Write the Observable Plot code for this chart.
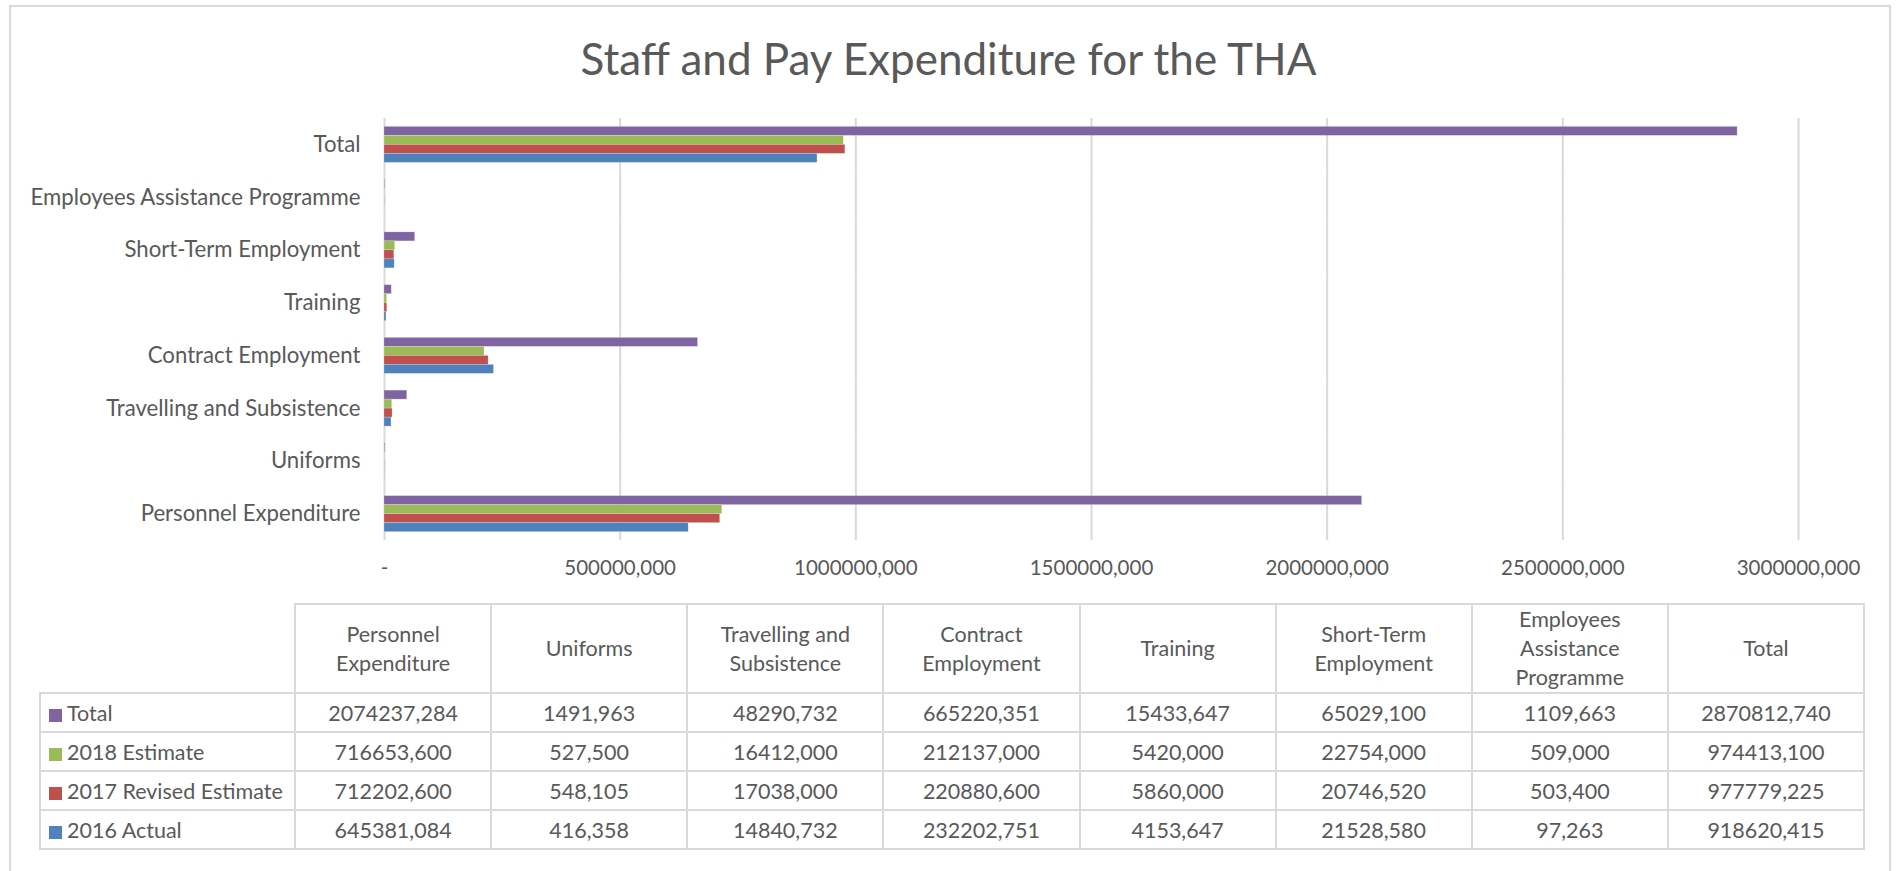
<!DOCTYPE html>
<html>
<head>
<meta charset="utf-8">
<script src="https://cdn.jsdelivr.net/npm/d3@7"></script>
<script src="https://cdn.jsdelivr.net/npm/@observablehq/plot@0.6"></script>
<style>
  html, body { margin: 0; padding: 0; background: #fff; }
  #root { position: relative; width: 1897px; height: 871px; overflow: hidden; font-family: Lato, "Open Sans", sans-serif; color: #595959; }
  #frame { position: absolute; left: 9px; top: 5px; width: 1882px; height: 900px; border: 2px solid #d9d9d9; box-sizing: border-box; }
  #title { position: absolute; left: 0; width: 1897px; top: 28px; text-align: center; font-size: 44px; font-weight: 400; color: #595959; line-height: 60px; }
  #chart { position: absolute; left: 0; top: 0; }
  table { position: absolute; left: 39px; top: 603px; border-collapse: collapse; table-layout: fixed; width: 1826px; font-size: 21.5px; color: #595959; }
  th, td { border: 2px solid #d9d9d9; text-align: center; font-weight: normal; padding: 0; }
  th { height: 86px; line-height: 29px; white-space: pre-line; }
  td { height: 37px; }
  td.key { text-align: left; padding-left: 8px; white-space: nowrap; }
  .sw { display: inline-block; width: 13px; height: 13px; margin-right: 5px; vertical-align: -1px; }
  th.empty { border-top: none; border-left: none; }
</style>
</head>
<body>
<div id="root">
  <div id="frame"></div>
  <div id="title"></div>
  <div id="chart"></div>
</div>
<script>
const titleText = "Staff and Pay Expenditure for the THA";
// Categories in table / data order (bottom to top on chart)
const categories = ["Personnel Expenditure", "Uniforms", "Travelling and Subsistence", "Contract Employment", "Training", "Short-Term Employment", "Employees Assistance Programme", "Total"];
const headerLabels = ["Personnel\nExpenditure", "Uniforms", "Travelling and\nSubsistence", "Contract\nEmployment", "Training", "Short-Term\nEmployment", "Employees\nAssistance\nProgramme", "Total"];
const seriesNames = ["Total", "2018 Estimate", "2017 Revised Estimate", "2016 Actual"];
const seriesColors = ["#8064A2", "#9BBB59", "#C0504D", "#4F81BD"];
const totalValues    = [2074237284, 1491963, 48290732, 665220351, 15433647, 65029100, 1109663, 2870812740];
const est2018Values  = [716653600, 527500, 16412000, 212137000, 5420000, 22754000, 509000, 974413100];
const rev2017Values  = [712202600, 548105, 17038000, 220880600, 5860000, 20746520, 503400, 977779225];
const actual2016Values = [645381084, 416358, 14840732, 232202751, 4153647, 21528580, 97263, 918620415];
const xTicks = [0, 500000000, 1000000000, 1500000000, 2000000000, 2500000000, 3000000000];

const seriesValues = [totalValues, est2018Values, rev2017Values, actual2016Values];

function fmt(v) {
  if (v === 0) return "-";
  if (v < 1000) return String(v);
  return Math.floor(v / 1000) + "," + String(v % 1000).padStart(3, "0");
}

const data = [];
categories.forEach((c, i) => {
  seriesNames.forEach((s, j) => {
    data.push({category: c, series: s, value: seriesValues[j][i]});
  });
});

document.getElementById("title").textContent = titleText;

const W = 1897, H = 600;
const plot = Plot.plot({
  width: W,
  height: H,
  marginLeft: 384,
  marginRight: 99,
  marginTop: 118,
  marginBottom: 60,
  style: {fontFamily: "Lato, 'Open Sans', sans-serif", fontSize: "20px", color: "#595959", background: "transparent"},
  x: {domain: [0, 3000000000], axis: null},
  fy: {domain: categories.slice().reverse(), padding: 0, round: false, axis: null, label: null},
  y: {domain: seriesNames, paddingInner: 0, paddingOuter: 0.93, round: false, axis: null},
  color: {domain: seriesNames, range: seriesColors},
  marks: [
    Plot.gridX({ticks: xTicks, stroke: "#d9d9d9", strokeOpacity: 1, strokeWidth: 2}),
    Plot.barX(data, {fy: "category", y: "series", x: "value", fill: "series", stroke: "#ffffff", strokeOpacity: 0.35, strokeWidth: 0.6}),
    Plot.axisX({anchor: "bottom", ticks: xTicks, tickFormat: fmt, tickSize: 0, tickPadding: 20, label: null, fontSize: 20.5}),
    Plot.axisFy({anchor: "left", tickSize: 0, tickPadding: 24, label: null, fontSize: 22.2})
  ]
});
document.getElementById("chart").appendChild(plot);

// Data table
const table = document.createElement("table");
const colgroup = document.createElement("colgroup");
const c0 = document.createElement("col"); c0.style.width = "255px"; colgroup.appendChild(c0);
categories.forEach(() => { const c = document.createElement("col"); colgroup.appendChild(c); });
table.appendChild(colgroup);
const thead = document.createElement("tr");
const empty = document.createElement("th"); empty.className = "empty"; thead.appendChild(empty);
headerLabels.forEach(h => { const th = document.createElement("th"); th.textContent = h; thead.appendChild(th); });
table.appendChild(thead);
seriesNames.forEach((s, j) => {
  const tr = document.createElement("tr");
  const key = document.createElement("td"); key.className = "key";
  const sw = document.createElement("span"); sw.className = "sw"; sw.style.background = seriesColors[j];
  key.appendChild(sw); key.appendChild(document.createTextNode(s));
  tr.appendChild(key);
  seriesValues[j].forEach(v => { const td = document.createElement("td"); td.textContent = fmt(v); tr.appendChild(td); });
  table.appendChild(tr);
});
document.getElementById("root").appendChild(table);
</script>
</body>
</html>
